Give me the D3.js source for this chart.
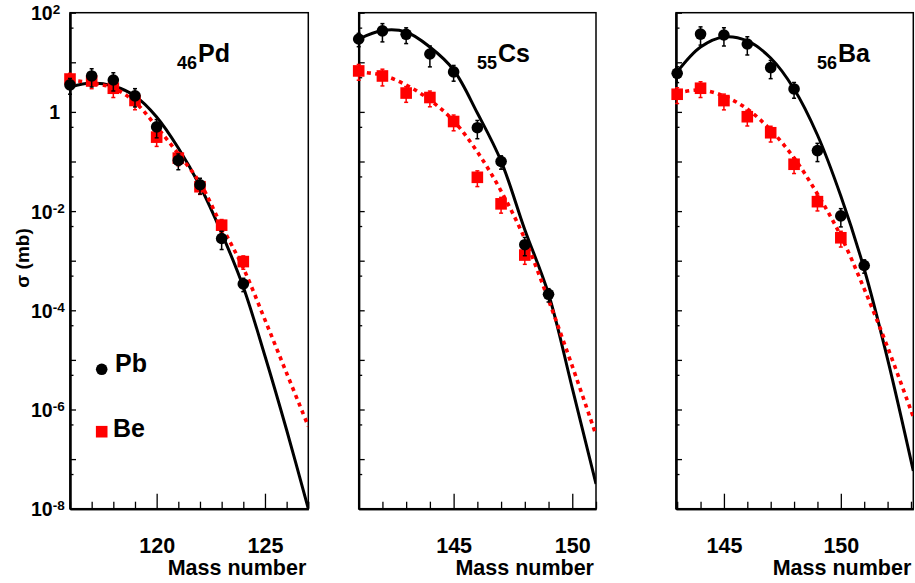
<!DOCTYPE html>
<html>
<head>
<meta charset="utf-8">
<script src="https://cdn.jsdelivr.net/npm/d3@7"></script>
<style>
body { margin: 0; background: #fff; }
text { font-family: "Liberation Sans", Arial, Helvetica, sans-serif; font-weight: bold; fill: #000; }
</style>
</head>
<body>
<svg id="chart" width="915" height="583"></svg>
<script>

// 46Pd
var pdMass = [116, 117, 118, 119, 120, 121, 122, 123, 124];
var pdPb = [3.5, 5.3, 4.4, 2.1, 0.50, 0.105, 0.034, 0.0028, 3.4e-4];
var pdPbErr = [0.35, 0.4, 0.4, 0.4, 0.4, 0.35, 0.35, 0.4, 0.3];
var pdBe = [4.6, 4.2, 3.0, 1.7, 0.31, 0.117, 0.031, 0.0052, 9.6e-4];
var pdBeErr = [0.3, 0.3, 0.35, 0.35, 0.35, 0.3, 0.3, 0.3, 0.3];
var pdFitMass = [116, 117, 118, 119, 120, 121, 122, 123, 124, 125, 126, 127];
var pdPbFit = [3.18, 3.83, 3.33, 2.09, 0.79, 0.187, 0.032, 0.0036, 2.95e-4, 1.2e-5, 3.86e-7, 1e-8];
var pdBeFit = [4.4, 3.83, 3.03, 1.58, 0.50, 0.142, 0.037, 0.0050, 7.1e-4, 6.4e-5, 5.4e-6, 4.6e-7];

// 55Cs
var csMass = [141, 142, 143, 144, 145, 146, 147, 148, 149];
var csPb = [29.5, 43, 36.7, 14.7, 6.4, 0.48, 0.1, 0.0021, 2.1e-4];
var csPbErr = [0.3, 0.4, 0.35, 0.45, 0.35, 0.4, 0.3, 0.4, 0.3];
var csBeMass = [141, 142, 143, 144, 145, 146, 147, 148];
var csBe = [6.7, 5.3, 2.4, 1.95, 0.64, 0.048, 0.014, 0.0013];
var csBeErr = [0.35, 0.37, 0.35, 0.35, 0.35, 0.35, 0.35, 0.35];
var csFitMass = [141, 142, 143, 144, 145, 146, 147, 148, 149, 150, 151];
var csPbFit = [29.5, 43.8, 40.8, 20.3, 7.0, 0.95, 0.102, 0.0042, 2.13e-4, 2.7e-6, 3.15e-8];
var csBeFit = [6.4, 5.5, 3.5, 1.74, 0.66, 0.156, 0.0254, 0.00274, 1.6e-4, 7.5e-6, 3.06e-7];

// 56Ba
var baMass = [143, 144, 145, 146, 147, 148, 149, 150, 151];
var baPb = [6.0, 37, 35.5, 23.4, 7.8, 2.9, 0.166, 0.008, 8e-4];
var baPbErr = [0.35, 0.4, 0.4, 0.4, 0.4, 0.35, 0.4, 0.4, 0.3];
var baBeMass = [143, 144, 145, 146, 147, 148, 149, 150];
var baBe = [2.27, 3.0, 1.69, 0.80, 0.38, 0.088, 0.0155, 0.0029];
var baBeErr = [0.35, 0.35, 0.35, 0.35, 0.35, 0.35, 0.35, 0.35];
var baFitMass = [143, 144, 145, 146, 147, 148, 149, 150, 151, 152, 153.1];
var baPbFit = [6.4, 20.3, 32.4, 26.9, 12.2, 2.9, 0.342, 0.0201, 6.8e-4, 1.04e-5, 5.8e-8];
var baBeFit = [2.40, 2.77, 2.09, 1.14, 0.43, 0.118, 0.0221, 0.00315, 2.7e-4, 1.8e-5, 7.1e-7];

var yLabelPowers = [2, 0, -2, -4, -6, -8];

var plotTop = 12.7, plotBottom = 508.7;
var svg = d3.select("#chart");

var y = d3.scaleLog().domain([1e-8, 1e2]).range([plotBottom, plotTop]);
var decades = d3.range(-8, 3).map(function(p){ return Math.pow(10, p); });
var halves = d3.range(-8, 2).map(function(p){ return 5 * Math.pow(10, p); });

var panels = [
	{ left: 70, right: 308.3, dom: [116, 127], major: [120, 125], sub: "46", el: "Pd", tx: 177,
	  mass: pdMass, pb: pdPb, pbErr: pdPbErr, beMass: pdMass, be: pdBe, beErr: pdBeErr,
	  fitMass: pdFitMass, pbFit: pdPbFit, beFit: pdBeFit },
	{ left: 358.7, right: 596, dom: [141, 151], major: [145, 150], sub: "55", el: "Cs", tx: 477,
	  mass: csMass, pb: csPb, pbErr: csPbErr, beMass: csBeMass, be: csBe, beErr: csBeErr,
	  fitMass: csFitMass, pbFit: csPbFit, beFit: csBeFit },
	{ left: 676, right: 913.3, dom: [142.95, 153.1], major: [145, 150], sub: "56", el: "Ba", tx: 817,
	  mass: baMass, pb: baPb, pbErr: baPbErr, beMass: baBeMass, be: baBe, beErr: baBeErr,
	  fitMass: baFitMass, pbFit: baPbFit, beFit: baBeFit }
];

function styleAxis(sel){
	sel.select(".domain").attr("stroke-width", 2);
	sel.selectAll(".tick line").attr("stroke-width", 1.3);
	sel.selectAll(".tick text").style("font-size", "21.5px");
}

function drawErrors(g, data, x, color){
	var eg = g.append("g").attr("stroke", color).attr("stroke-width", 1.5);
	data.forEach(function(d){
		var cx = x(d[0]);
		var y0 = y(d[1] * (1 - d[2])), y1 = y(d[1] * (1 + d[2]));
		eg.append("line").attr("x1", cx).attr("x2", cx).attr("y1", y0).attr("y2", y1);
		eg.append("line").attr("x1", cx - 2).attr("x2", cx + 2).attr("y1", y0).attr("y2", y0);
		eg.append("line").attr("x1", cx - 2).attr("x2", cx + 2).attr("y1", y1).attr("y2", y1);
	});
}

panels.forEach(function(p, i){
	var x = d3.scaleLinear().domain(p.dom).range([p.left, p.right]);
	var g = svg.append("g");

	svg.append("clipPath").attr("id", "clip" + i)
		.append("rect")
		.attr("x", p.left).attr("y", plotTop)
		.attr("width", p.right - p.left).attr("height", plotBottom - plotTop);

	// frame
	g.append("rect")
		.attr("x", p.left).attr("y", plotTop)
		.attr("width", p.right - p.left).attr("height", plotBottom - plotTop)
		.attr("fill", "none").attr("stroke", "#000").attr("stroke-width", 1.5);

	// y ticks (inside)
	g.append("g").attr("transform", "translate(" + p.left + ",0)")
		.call(d3.axisLeft(y).tickValues(decades).tickSizeInner(-6).tickSizeOuter(0).tickFormat(""))
		.call(styleAxis);
	g.append("g").attr("transform", "translate(" + p.left + ",0)")
		.call(d3.axisLeft(y).tickValues(halves).tickSizeInner(-3.5).tickSizeOuter(0).tickFormat(""))
		.call(styleAxis);

	// x ticks
	var minor = d3.range(Math.ceil(p.dom[0]), Math.floor(p.dom[1]) + 1)
		.filter(function(v){ return p.major.indexOf(v) < 0; });
	g.append("g").attr("transform", "translate(0," + plotBottom + ")")
		.call(d3.axisBottom(x).tickValues(minor).tickSizeInner(-7).tickSizeOuter(0).tickFormat(""))
		.call(styleAxis);
	g.append("g").attr("transform", "translate(0," + plotBottom + ")")
		.call(d3.axisBottom(x).tickValues(p.major).tickSizeInner(-15).tickSizeOuter(0)
			.tickPadding(29).tickFormat(d3.format("d")))
		.call(styleAxis);

	g.append("text")
		.attr("x", p.right - 2).attr("y", 575)
		.attr("text-anchor", "end")
		.style("font-size", "21.5px")
		.text("Mass number");

	// title
	var t = g.append("text").attr("x", p.tx).attr("y", 69);
	t.append("tspan").style("font-size", "18px").text(p.sub);
	t.append("tspan").attr("dy", -7).attr("dx", 1).style("font-size", "25px").text(p.el);

	// fits
	var line = d3.line()
		.x(function(d){ return x(d[0]); })
		.y(function(d){ return y(d[1]); })
		.curve(d3.curveCatmullRom.alpha(0.5));
	var clipped = g.append("g").attr("clip-path", "url(#clip" + i + ")");
	clipped.append("path")
		.datum(d3.zip(p.fitMass, p.pbFit))
		.attr("d", line)
		.attr("fill", "none").attr("stroke", "#000").attr("stroke-width", 3);
	clipped.append("path")
		.datum(d3.zip(p.fitMass, p.beFit))
		.attr("d", line)
		.attr("fill", "none").attr("stroke", "#ff0000").attr("stroke-width", 3.6)
		.attr("stroke-dasharray", "4 4.3");

	// Be points
	var be = d3.zip(p.beMass, p.be, p.beErr);
	drawErrors(g, be, x, "#ff0000");
	g.selectAll("rect.be").data(be).enter().append("rect")
		.attr("class", "be")
		.attr("x", function(d){ return x(d[0]) - 5.8; })
		.attr("y", function(d){ return y(d[1]) - 5.8; })
		.attr("width", 11.6).attr("height", 11.6)
		.attr("fill", "#ff0000");

	// Pb points
	var pb = d3.zip(p.mass, p.pb, p.pbErr);
	drawErrors(g, pb, x, "#000");
	g.selectAll("circle.pb").data(pb).enter().append("circle")
		.attr("class", "pb")
		.attr("cx", function(d){ return x(d[0]); })
		.attr("cy", function(d){ return y(d[1]); })
		.attr("r", 5.8)
		.attr("fill", "#000");
});

// y tick labels on the first panel
yLabelPowers.forEach(function(pw){
	var t = svg.append("text")
		.attr("y", y(Math.pow(10, pw)))
		.attr("dy", "0.38em")
		.style("font-size", "19.5px");
	if (pw === 0) {
		t.attr("x", 60).attr("text-anchor", "end").text("1");
	} else {
		t.attr("x", 31);
		t.append("tspan").text("10");
		t.append("tspan").attr("dy", "-0.42em").style("font-size", "13.5px").text(pw);
	}
});

svg.append("text")
	.attr("transform", "translate(29,258) rotate(-90)")
	.attr("text-anchor", "middle")
	.style("font-size", "19px")
	.text("σ (mb)");

// legend
svg.append("circle").attr("cx", 101.7).attr("cy", 369.3).attr("r", 5.8).attr("fill", "#000");
svg.append("text").attr("x", 115).attr("y", 372).style("font-size", "25px").text("Pb");
svg.append("rect").attr("x", 95.9).attr("y", 425.9).attr("width", 11.6).attr("height", 11.6).attr("fill", "#ff0000");
svg.append("text").attr("x", 113).attr("y", 437).style("font-size", "25px").text("Be");

</script>
</body>
</html>
